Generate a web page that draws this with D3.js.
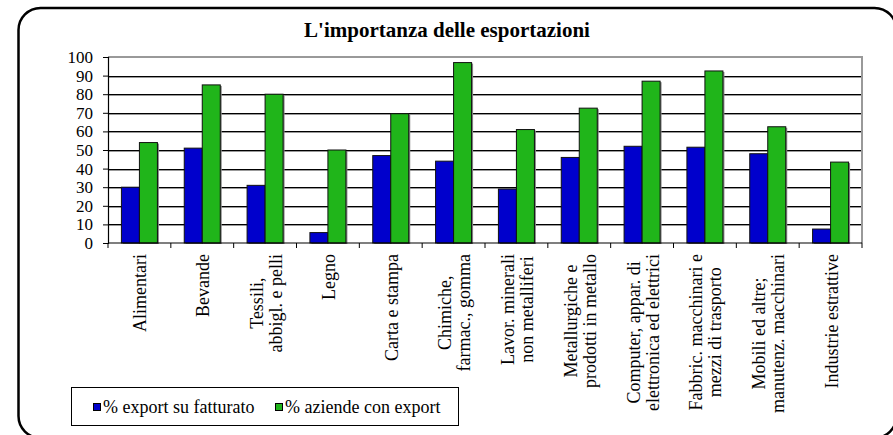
<!DOCTYPE html>
<html><head><meta charset="utf-8">
<script src="https://cdn.jsdelivr.net/npm/d3@7"></script>
<style>
html,body{margin:0;padding:0;background:#fff;}
svg{display:block;}
svg text{font-family:"Liberation Serif","Times New Roman",Times,serif !important;}
</style></head>
<body>
<svg id="c" width="893" height="435"></svg>
<script>
const title = "L'importanza delle esportazioni";
const categories = [
  ["Alimentari"],
  ["Bevande"],
  ["Tessili,", "abbigl. e pelli"],
  ["Legno"],
  ["Carta e stampa"],
  ["Chimiche,", "farmac., gomma"],
  ["Lavor. minerali", "non metalliferi"],
  ["Metallurgiche e", "prodotti in metallo"],
  ["Computer, appar. di", "elettronica ed elettrici"],
  ["Fabbric. macchinari e", "mezzi di trasporto"],
  ["Mobili ed altre;", "manutenz. macchinari"],
  ["Industrie estrattive"]
];
const seriesNames = ["% export su fatturato", "% aziende con export"];
const exportFatturato = [30, 51, 31, 5.6, 47, 44, 29, 46, 52, 51.5, 48, 7.5];
const aziendeExport = [54, 85, 80, 50, 69.5, 97, 61, 72.5, 87, 92.5, 62.5, 43.5];
const yTicks = [0, 10, 20, 30, 40, 50, 60, 70, 80, 90, 100];
const colors = ["#0000cc", "#20b51a"];

const svg = d3.select("#c");
const L = 108, R = 862, T = 57, B = 243;

// outer rounded border
svg.append("rect").attr("x", 18.5).attr("y", 8).attr("width", 878).attr("height", 430)
  .attr("rx", 22).attr("fill", "none").attr("stroke", "#000").attr("stroke-width", 2.5);

svg.append("text").attr("x", 447).attr("y", 37).attr("text-anchor", "middle")
  .attr("font-weight", "bold").attr("font-size", 21).text(title);

const keys = categories.map((d, i) => i);
const x0 = d3.scaleBand().domain(keys).range([L, R]).paddingInner(0).paddingOuter(0);
const x1 = d3.scaleBand().domain([0, 1]).range([0, x0.bandwidth()]).paddingInner(0).paddingOuter(0.745);
const y = d3.scaleLinear().domain([0, 100]).range([B, T]);

// gridlines
const grid = svg.append("g");
yTicks.filter(t => t > 0 && t < 100).forEach(t => {
  grid.append("line").attr("x1", L).attr("x2", R).attr("y1", Math.round(y(t)) + 1.5).attr("y2", Math.round(y(t)) + 1.5)
    .attr("stroke", "#999").attr("stroke-width", 1);
  grid.append("line").attr("x1", L).attr("x2", R).attr("y1", Math.round(y(t)) + 0.5).attr("y2", Math.round(y(t)) + 0.5)
    .attr("stroke", "#000").attr("stroke-width", 1);
});
// plot border top & right (gray)
svg.append("path").attr("d", `M${L},${y(100)}H${R}V${B}`).attr("fill", "none").attr("stroke", "#999").attr("stroke-width", 2);

// bars
const data = [exportFatturato, aziendeExport];
const bars = svg.append("g");
keys.forEach(i => {
  data.forEach((s, j) => {
    const bx = x0(i) + x1(j), bw = x1.bandwidth();
    bars.append("rect").attr("x", bx + 1.5).attr("y", y(s[i]) + 1).attr("width", bw).attr("height", B - y(s[i]))
      .attr("fill", "#888");
    bars.append("rect").attr("x", bx).attr("y", y(s[i])).attr("width", bw).attr("height", B - y(s[i]))
      .attr("fill", colors[j]).attr("stroke", "#111").attr("stroke-width", 1);
  });
});

// y axis
const ya = svg.append("g").attr("transform", `translate(${L},0)`)
  .call(d3.axisLeft(y).tickValues(yTicks).tickSize(5).tickPadding(10));
ya.attr("font-family", null);
ya.select(".domain").attr("stroke", "#000").attr("stroke-width", 1.2);
ya.selectAll(".tick line").attr("stroke", "#000");
ya.selectAll("text").attr("font-size", 17).attr("fill", "#000");

// x axis: ticks between categories
const xa = svg.append("g");
xa.append("line").attr("x1", L).attr("x2", R).attr("y1", B).attr("y2", B).attr("stroke", "#000").attr("stroke-width", 1.2);
keys.concat([keys.length]).forEach(i => {
  const xx = i < keys.length ? x0(i) : R;
  xa.append("line").attr("x1", xx).attr("x2", xx).attr("y1", B).attr("y2", B + 5).attr("stroke", "#000");
});

// x labels rotated
categories.forEach((lines, i) => {
  const cx = x0(i) + x0.bandwidth() / 2 + 1;
  const g = svg.append("g").attr("transform", `translate(${cx},${B + 11}) rotate(-90)`);
  const ts = lines.map((ln, k) => g.append("text").attr("font-size", 18).attr("text-anchor", "middle")
    .attr("dominant-baseline", "central")
    .attr("y", (k - (lines.length - 1) / 2) * 19).text(ln));
  const maxLen = d3.max(ts, t => t.node().getComputedTextLength());
  ts.forEach(t => t.attr("x", -maxLen / 2));
});

// legend
const lg = svg.append("g");
lg.append("rect").attr("x", 71.5).attr("y", 387.5).attr("width", 387).attr("height", 38)
  .attr("fill", "#fff").attr("stroke", "#000").attr("stroke-width", 1);
const legX = [93, 275];
seriesNames.forEach((n, j) => {
  lg.append("rect").attr("x", legX[j] + 0.5).attr("y", 403.5).attr("width", 7).attr("height", 7)
    .attr("fill", colors[j]).attr("stroke", "#000").attr("stroke-width", 1);
  lg.append("text").attr("x", legX[j] + 10).attr("y", 413).attr("font-size", 18).text(n);
});
</script>
</body></html>
